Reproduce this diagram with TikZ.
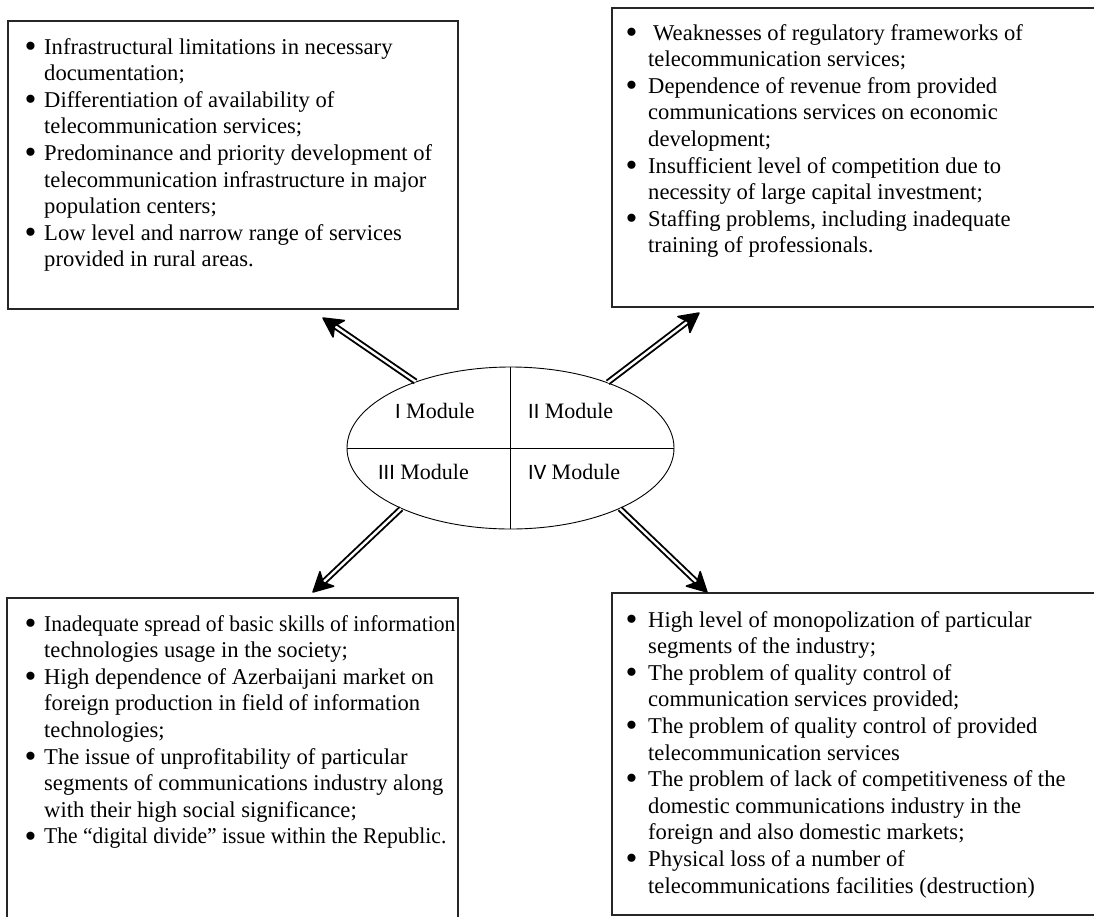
\documentclass[tikz,border=0pt]{standalone}
\usepackage{fontspec}
\usepackage{graphicx}
\setmainfont{Liberation Serif}
\newfontfamily\numfont{Carlito}
\usetikzlibrary{shapes.geometric,arrows.meta,calc}

\newlength{\bulw}
\setlength{\bulw}{18pt}
\newcommand{\bigbul}{\raisebox{-3.2pt}{\fontsize{34}{34}\selectfont\textbullet}}
\newcommand{\bitem}[1]{\makebox[\bulw][l]{\hspace*{-1.5pt}\bigbul}#1}
\newcommand{\bcont}[1]{\hspace*{\bulw}#1}

\begin{document}
\begin{tikzpicture}[x=1pt,y=-1pt,
  box/.style={draw=black!85, line width=1.2pt},
  txt/.style={anchor=base west, inner sep=0pt, font=\fontsize{22.6}{26.6}\selectfont},
  modlbl/.style={anchor=base west, inner sep=0pt, font=\fontsize{22}{24}\selectfont},
  shaft/.style={double, double distance=2.4pt, line width=1.9pt},
  headfill/.style={fill=black, draw=black, line width=1.5pt, line join=round},
  divider/.style={line width=0.9pt}
]
\useasboundingbox (0,0) rectangle (1094,916);
\clip (0,0) rectangle (1094,916);

% boxes
\draw[box] (8,21) rectangle (458,309);
\draw[box] (612,8) rectangle (1110,307);
\draw[box] (7,598) rectangle (458,940);
\draw[box] (612,593) rectangle (1110,915);

% box texts
\node[txt] (t1) at (26,54) {\setlength{\bulw}{18pt}\parbox[t]{430pt}{%
\bitem{Infrastructural limitations in necessary}\\
\bcont{documentation;}\\
\bitem{Differentiation of availability of}\\
\bcont{telecommunication services;}\\
\bitem{Predominance and priority development of}\\
\bcont{telecommunication infrastructure in major}\\
\bcont{population centers;}\\
\bitem{Low level and narrow range of services}\\
\bcont{provided in rural areas.}}};

\node[txt] (t2) at (627,40) {\setlength{\bulw}{21pt}\parbox[t]{460pt}{%
\bitem{\hspace*{5pt}Weaknesses of regulatory frameworks of}\\
\bcont{telecommunication services;}\\
\bitem{Dependence of revenue from provided}\\
\bcont{communications services on economic}\\
\bcont{development;}\\
\bitem{Insufficient level of competition due to}\\
\bcont{necessity of large capital investment;}\\
\bitem{Staffing problems, including inadequate}\\
\bcont{training of professionals.}}};

\node[txt] (t3) at (26,631) {\setlength{\bulw}{18pt}\parbox[t]{440pt}{%
\bitem{\scalebox{0.955}[1]{Inadequate spread of basic skills of information}}\\
\bcont{technologies usage in the society;}\\
\bitem{High dependence of Azerbaijani market on}\\
\bcont{foreign production in field of information}\\
\bcont{technologies;}\\
\bitem{The issue of unprofitability of particular}\\
\bcont{segments of communications industry along}\\
\bcont{with their high social significance;}\\
\bitem{\scalebox{0.955}[1]{The “digital divide” issue within the Republic.}}}};

\node[txt] (t4) at (627,627) {\setlength{\bulw}{21pt}\parbox[t]{460pt}{%
\bitem{High level of monopolization of particular}\\
\bcont{segments of the industry;}\\
\bitem{The problem of quality control of}\\
\bcont{communication services provided;}\\
\bitem{The problem of quality control of provided}\\
\bcont{telecommunication services}\\
\bitem{The problem of lack of competitiveness of the}\\
\bcont{domestic communications industry in the}\\
\bcont{foreign and also domestic markets;}\\
\bitem{Physical loss of a number of}\\
\bcont{telecommunications facilities (destruction)}}};

% central ellipse
\node[draw, ellipse, line width=0.9pt, minimum width=327pt, minimum height=162pt, inner sep=0pt] (E) at (510.5,448) {};
\draw[divider] (E.north) -- (E.south);
\draw[divider] (E.west) -- (E.east);

\node[modlbl] (m1) at (395,418) {{\numfont I} Module};
\node[modlbl] (m2) at (528,418) {{\numfont II} Module};
\node[modlbl] (m3) at (378,479) {{\numfont III} Module};
\node[modlbl] (m4) at (528,479) {{\numfont IV} Module};

% arrows: double shafts with heavy filled heads
\coordinate (a1) at (323,318);
\coordinate (a2) at (699,313);
\coordinate (a3) at (313,592);
\coordinate (a4) at (707,592);
\coordinate (s1) at (E.145);
\coordinate (s2) at (E.34);
\coordinate (s3) at (E.209);
\coordinate (s4) at (E.331);
\foreach \i in {1,2,3,4}{
  \coordinate (b\i) at ($(a\i)!19pt!(s\i)$);
  \coordinate (n\i) at ($(a\i)!14pt!(s\i)$);
  \draw[shaft] (s\i) -- (n\i);
  \filldraw[headfill] ($(b\i)!10pt!90:(a\i)$) -- (a\i) -- ($(b\i)!10pt!-90:(a\i)$) -- (n\i) -- cycle;
}
\end{tikzpicture}
\end{document}
